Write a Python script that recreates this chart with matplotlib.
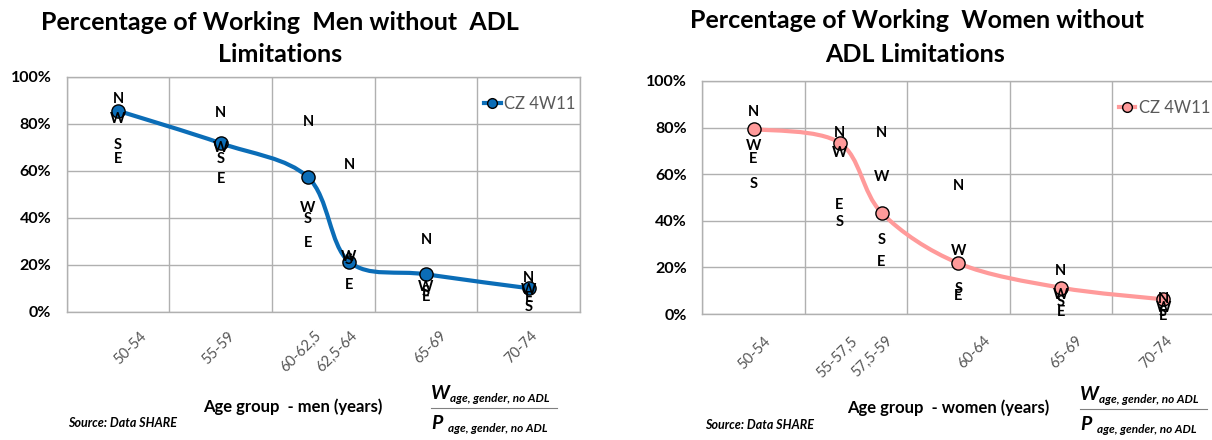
import numpy as np
import matplotlib
matplotlib.use('Agg')
import matplotlib.pyplot as plt
from matplotlib.path import Path
from matplotlib.patches import PathPatch
from matplotlib.lines import Line2D

plt.rcParams['font.family'] = ['Lato', 'DejaVu Sans']

# men
men_groups = ['50-54', '55-59', '60-62,5', '62,5-64', '65-69', '70-74']
men_x = [0.5, 1.5, 2.35, 2.75, 3.5, 4.5]
men_val = [0.855, 0.717, 0.572, 0.213, 0.159, 0.100]
men_N = [0.906, 0.845, 0.809, 0.624, 0.305, 0.142]
men_W = [0.820, 0.695, 0.442, 0.232, 0.106, 0.092]
men_S = [0.710, 0.650, 0.396, 0.218, 0.083, 0.021]
men_E = [0.650, 0.563, 0.292, 0.115, 0.061, 0.057]
men_label_x = [0.617, 1.473, 2.286, 2.637, 3.538, 4.424]

# women
women_groups = ['50-54', '55-57,5', '57,5-59', '60-64', '65-69', '70-74']
women_x = [0.5, 1.34, 1.75, 2.5, 3.5, 4.5]
women_val = [0.794, 0.735, 0.435, 0.218, 0.113, 0.063]
women_N = [0.866, 0.778, 0.778, 0.549, 0.186, 0.063]
women_W = [0.721, 0.690, 0.589, 0.272, 0.082, 0.024]
women_S = [0.558, 0.396, 0.318, 0.106, 0.053, 0.008]
women_E = [0.665, 0.468, 0.224, 0.077, 0.010, -0.009]
women_label_x = [0.505, 1.315, 1.66, 2.66, 3.552, 4.431]

W, H = 1212, 440
fig = plt.figure(figsize=(W / 100, H / 100), dpi=100)


def smooth_path(xs, ys):
    pts = np.column_stack([xs, ys])
    n = len(pts)
    verts = [pts[0]]
    codes = [Path.MOVETO]
    for i in range(n - 1):
        p0 = pts[max(i - 1, 0)]
        p1 = pts[i]
        p2 = pts[i + 1]
        p3 = pts[min(i + 2, n - 1)]
        verts += [p1 + (p2 - p0) / 6, p2 - (p3 - p1) / 6, p2]
        codes += [Path.CURVE4] * 3
    return Path(verts, codes)


def panel(rect, xs, vals, groups, label_x, N, Wl, S, E, color, label_top):
    ax = fig.add_axes(rect)
    ax.set_xlim(0, 5)
    ax.set_ylim(0, 1)
    ax.set_xticks([0, 1, 2, 3, 4, 5])
    ax.set_xticklabels([])
    ax.set_yticks([0, 0.2, 0.4, 0.6, 0.8, 1.0])
    ax.set_yticklabels(['0%', '20%', '40%', '60%', '80%', '100%'],
                       fontsize=11.5, fontweight='bold')
    ax.tick_params(length=0, pad=11)
    ax.grid(True, color='#b0b0b0', lw=1)
    for sp in ax.spines.values():
        sp.set_color('#b0b0b0')
        sp.set_linewidth(1)

    ax.add_patch(PathPatch(smooth_path(xs, vals), fill=False, edgecolor=color,
                           lw=3, capstyle='round', zorder=3))
    ax.plot(xs, vals, 'o', ms=9.5, mfc=color, mec='black', mew=1, zorder=4)

    for letters, ch in [(N, 'N'), (Wl, 'W'), (S, 'S'), (E, 'E')]:
        for x, y in zip(xs, letters):
            ax.text(x, y, ch, ha='center', va='center', fontsize=10.5,
                    fontweight='bold', color='black', zorder=5, clip_on=False)

    for x, g in zip(label_x, groups):
        ax.text(x, label_top, g, transform=ax.get_xaxis_transform(),
                rotation=45, ha='center', va='top', fontsize=10.5,
                color='#555555')

    handle = Line2D([], [], color=color, lw=3, marker='o', ms=7,
                    mfc=color, mec='black', mew=1)
    ax.legend([handle], ['CZ 4W11'], loc='center left',
              bbox_to_anchor=(0.80, 0.885), frameon=False, handlelength=1.0,
              handletextpad=0.2, borderaxespad=0,
              prop={'size': 12}, labelcolor='#595959')
    return ax


def px(x, y):
    return x / W, 1 - y / H


panel([66.7 / W, 1 - 311.7 / H, 513.3 / W, 235 / H], men_x, men_val,
      men_groups, men_label_x, men_N, men_W, men_S, men_E, '#0b6db7', -0.073)
panel([702.3 / W, 1 - 314 / H, 512 / W, 233 / H], women_x, women_val,
      women_groups, women_label_x, women_N, women_W, women_S, women_E,
      '#ff9a9a', -0.085)

# titles
fig.text(*px(280, 22), 'Percentage of Working  Men without  ADL',
         ha='center', va='center', fontsize=18, fontweight='bold')
fig.text(*px(280, 55), 'Limitations', ha='center', va='center',
         fontsize=18, fontweight='bold')
fig.text(*px(917, 21), 'Percentage of Working  Women without',
         ha='center', va='center', fontsize=18, fontweight='bold')
fig.text(*px(915, 55), 'ADL Limitations', ha='center', va='center',
         fontsize=18, fontweight='bold')

# axis titles and notes
fig.text(*px(293, 407), 'Age group  - men (years)', ha='center', va='center',
         fontsize=12, fontweight='bold')
fig.text(*px(948, 408), 'Age group  - women (years)', ha='center', va='center',
         fontsize=12, fontweight='bold')
fig.text(*px(68, 423), 'Source: Data SHARE', ha='left', va='center',
         fontsize=9, fontweight='bold', style='italic')
fig.text(*px(705, 425), 'Source: Data SHARE', ha='left', va='center',
         fontsize=9, fontweight='bold', style='italic')

for x0, y0, x1 in [(431, 393, 557), (1080, 394, 1207)]:
    fig.text(*px(x0, y0), 'W', ha='left', va='center', fontsize=14,
             fontweight='bold', style='italic')
    fig.text(*px(x0 + 19, y0 + 5), 'age, gender, no ADL', ha='left',
             va='center', fontsize=8.5, fontweight='bold', style='italic')
    fig.add_artist(Line2D([x0 / W, x1 / W], [1 - (y0 + 15) / H] * 2,
                          color='#808080', lw=0.8))
    fig.text(*px(x0, y0 + 30), 'P', ha='left', va='center', fontsize=14,
             fontweight='bold', style='italic')
    fig.text(*px(x0 + 17, y0 + 35), 'age, gender, no ADL', ha='left',
             va='center', fontsize=8.5, fontweight='bold', style='italic')

fig.savefig('out.png', dpi=100)
